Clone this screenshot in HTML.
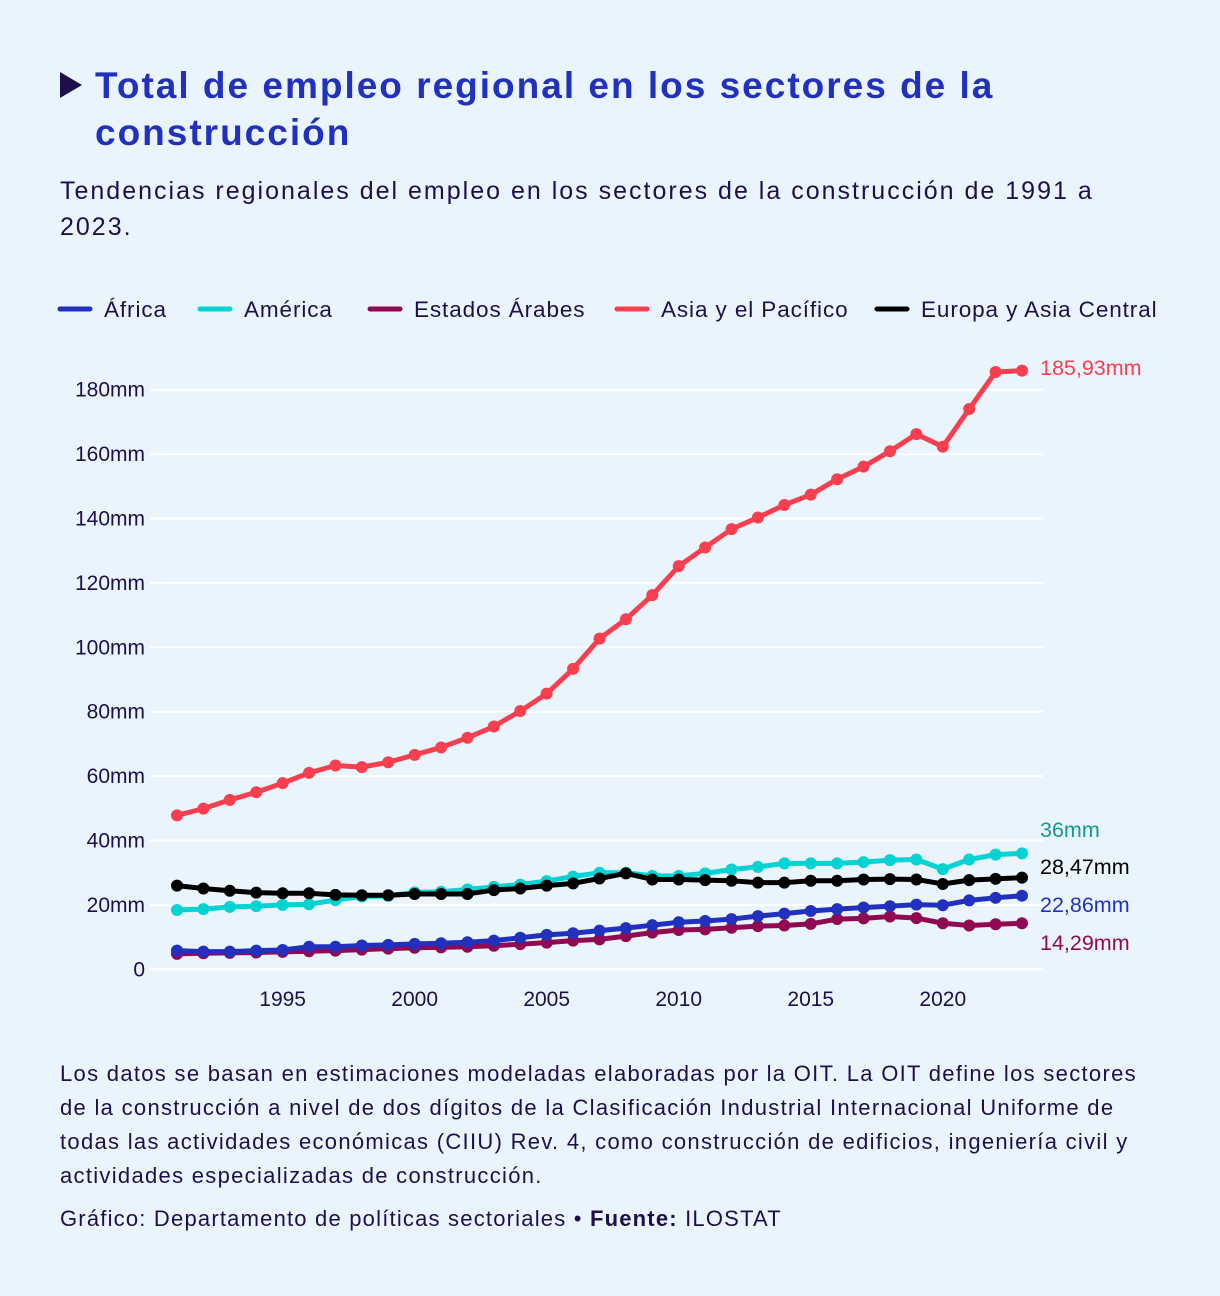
<!DOCTYPE html>
<html><head><meta charset="utf-8"><style>
body{margin:0;background:#eaf4fd;width:1220px;height:1296px;overflow:hidden;font-family:"Liberation Sans","DejaVu Sans",sans-serif;color:#1e0f4b;}
#title{position:absolute;left:95px;top:62px;width:1040px;font-size:37px;font-weight:bold;color:#2131be;line-height:47px;margin:0;letter-spacing:2px}
#tri{position:absolute;left:60px;top:72px;width:0;height:0;border-top:13px solid transparent;border-bottom:13px solid transparent;border-left:22px solid #1e0f4b}
#sub{position:absolute;left:60px;top:173px;width:1100px;font-size:25px;line-height:36px;margin:0;letter-spacing:2px;white-space:nowrap}
#note{position:absolute;left:60px;top:1057px;width:1140px;font-size:22px;line-height:34px;margin:0;letter-spacing:1.3px;white-space:nowrap}
#src{position:absolute;left:60px;top:1206px;font-size:22px;letter-spacing:1.2px}
</style></head><body>
<div id="tri"></div>
<h1 id="title">Total de empleo regional en los sectores de la<br>construcción</h1>
<p id="sub">Tendencias regionales del empleo en los sectores de la construcción de 1991 a<br>2023.</p>
<svg id="chart" width="1220" height="1296" style="position:absolute;left:0;top:0"></svg>
<p id="note">Los datos se basan en estimaciones modeladas elaboradas por la OIT. La OIT define los sectores<br>de la construcción a nivel de dos dígitos de la Clasificación Industrial Internacional Uniforme de<br>todas las actividades económicas (CIIU) Rev. 4, como construcción de edificios, ingeniería civil y<br>actividades especializadas de construcción.</p>
<div id="src">Gráfico: Departamento de políticas sectoriales • <b>Fuente:</b> ILOSTAT</div>
<script>
const years=[];for(let y=1991;y<=2023;y++)years.push(y);
const africa=[5.8,5.5,5.5,5.8,6.0,7.0,7.0,7.4,7.6,7.9,8.1,8.4,8.9,9.8,10.7,11.2,12.0,12.8,13.7,14.6,15.0,15.6,16.5,17.3,18.1,18.7,19.2,19.6,20.1,19.9,21.4,22.2,22.86];
const america=[18.4,18.7,19.4,19.6,20.0,20.2,21.5,22.6,22.8,23.9,24.1,24.8,25.6,26.3,27.4,28.8,30.0,30.0,29.0,29.0,29.8,31.0,31.8,32.9,32.9,32.9,33.3,33.9,34.1,31.1,34.1,35.6,36.0];
const arabes=[4.8,5.0,5.1,5.2,5.4,5.6,5.8,6.1,6.4,6.7,6.8,7.0,7.3,7.8,8.3,8.9,9.3,10.3,11.4,12.2,12.4,12.9,13.4,13.6,14.1,15.6,15.8,16.4,15.9,14.3,13.6,14.0,14.29];
const asia=[47.8,49.9,52.6,55.0,57.8,61.0,63.3,62.8,64.3,66.6,68.9,71.9,75.4,80.2,85.6,93.3,102.7,108.7,116.2,125.2,131.0,136.7,140.3,144.2,147.4,152.2,156.1,160.9,166.2,162.3,174.0,185.5,185.93];
const europa=[26.0,25.1,24.4,23.8,23.6,23.6,23.1,23.0,23.0,23.4,23.4,23.4,24.6,25.1,26.0,26.7,28.2,29.8,27.9,27.9,27.7,27.5,26.9,26.9,27.5,27.5,27.9,28.0,27.9,26.5,27.7,28.1,28.47];
const seriesNames=["África","América","Estados Árabes","Asia y el Pacífico","Europa y Asia Central"];
const endLabels=["22,86mm","36mm","14,29mm","185,93mm","28,47mm"];
const yTicks=[0,20,40,60,80,100,120,140,160,180];
const yTickLabels=["0","20mm","40mm","60mm","80mm","100mm","120mm","140mm","160mm","180mm"];
const xTicks=[1995,2000,2005,2010,2015,2020];

const colors=["#2131be","#05d3d3","#8f0a52","#f73f4f","#000000"];
const labelColors=["#2131be","#0f9a92","#8f0a52","#f73f4f","#000000"];
const labelY=[905,830,943,368,867];
const NS="http://www.w3.org/2000/svg";
const svg=document.getElementById('chart');
const X=y=>177+(y-1991)*(1022-177)/32;
const Y=v=>969.3-v*3.22;
function mk(t,a){const e=document.createElementNS(NS,t);for(const k in a)e.setAttribute(k,a[k]);svg.appendChild(e);return e;}
yTicks.forEach((t,i)=>{
 const g=mk('line',{x1:150,x2:1043,y1:Y(t),y2:Y(t),stroke:'#fff','stroke-width':2});
 
 
 const l=mk('text',{x:145,y:Y(t)+7,'text-anchor':'end','font-size':21,fill:'#1e0f4b'});
 l.textContent=yTickLabels[i];
 
 
});
xTicks.forEach(t=>{
 const l=mk('text',{x:X(t),y:1006,'text-anchor':'middle','font-size':21,fill:'#1e0f4b'});
 l.textContent=t;
 
 
});
const data=[africa,america,arabes,asia,europa];
const order=[3,1,4,2,0];
order.forEach(s=>{
 const vals=data[s];
 const p=mk('polyline',{points:vals.map((v,i)=>X(years[i])+','+Y(v)).join(' '),fill:'none',stroke:colors[s],'stroke-width':5,'stroke-linejoin':'round'});
 
 
 vals.forEach((v,i)=>{
  const c=mk('circle',{cx:X(years[i]),cy:Y(v),r:6,fill:colors[s]});
  
  
 });
 const l=mk('text',{x:1040,y:labelY[s]+7,'font-size':21.5,fill:labelColors[s]});
 l.textContent=endLabels[s];
 
 
});
const legX=[60,200,370,617,877];
seriesNames.forEach((n,i)=>{
 const ln=mk('line',{x1:legX[i],x2:legX[i]+30,y1:309,y2:309,stroke:colors[i],'stroke-width':5,'stroke-linecap':'round'});
 
 
 const t=mk('text',{x:legX[i]+44,y:317,'font-size':22.5,fill:'#1e0f4b','letter-spacing':0.9});
 t.textContent=n;
 
 
});
</script>
</body></html>
